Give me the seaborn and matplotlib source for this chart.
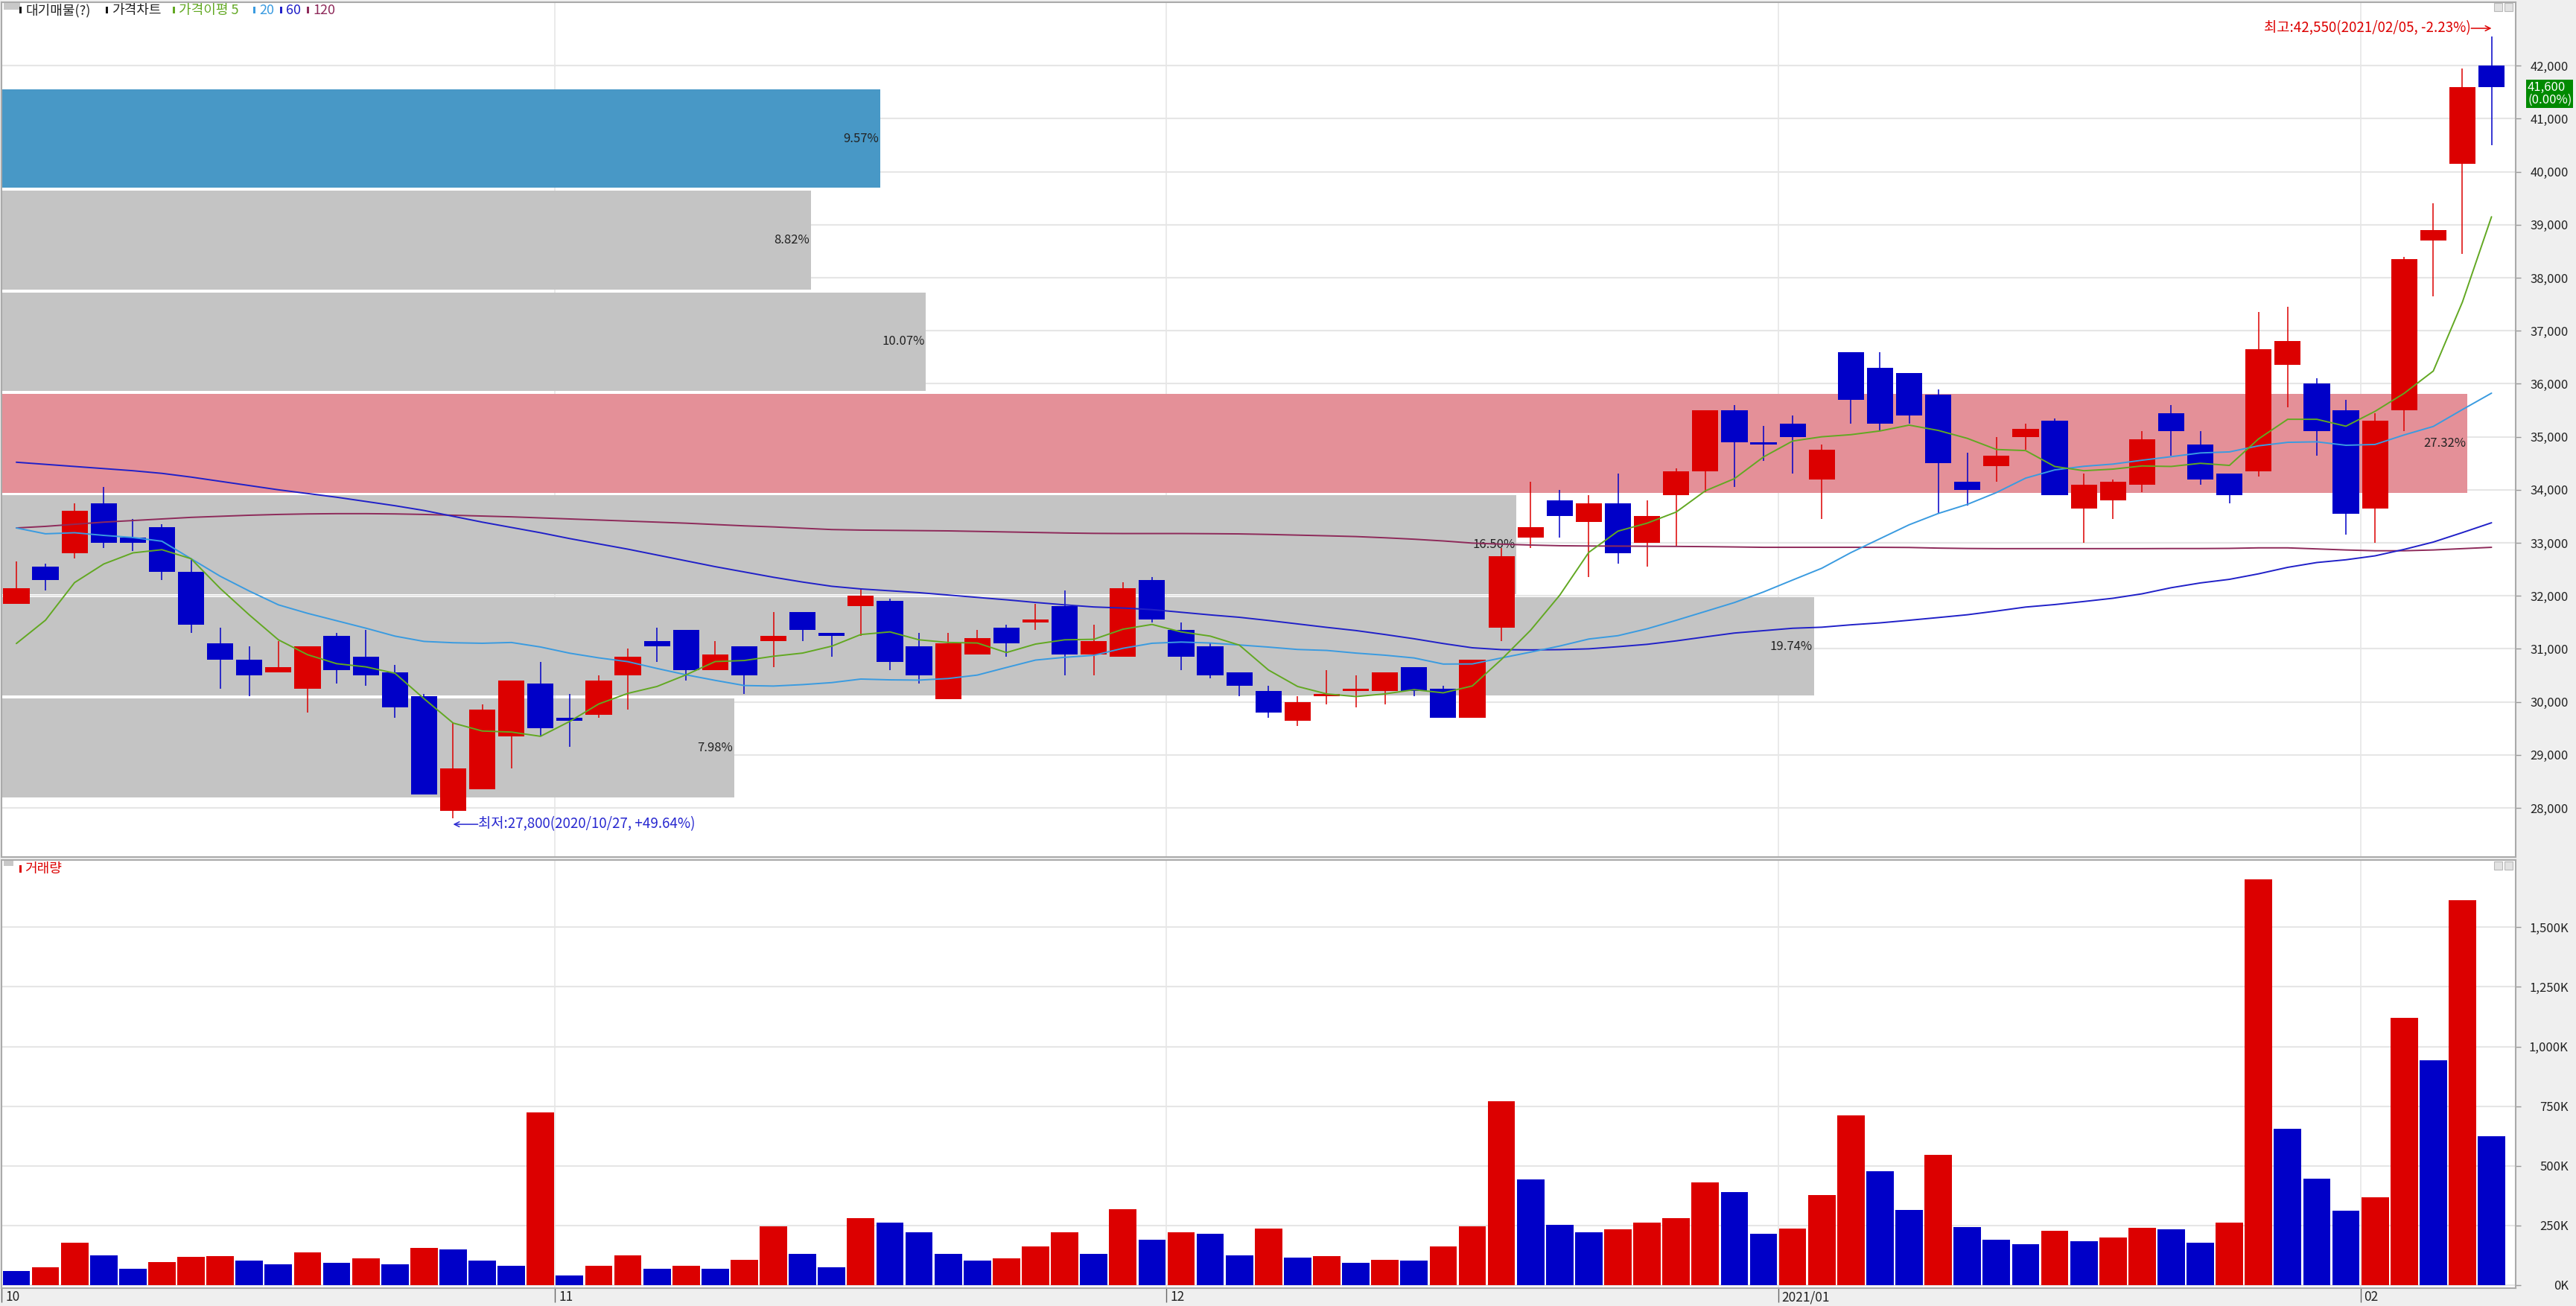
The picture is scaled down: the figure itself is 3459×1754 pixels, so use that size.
import matplotlib
matplotlib.use("Agg")
import matplotlib.pyplot as plt
from matplotlib.patches import Rectangle
import numpy as np
import pandas as pd
import seaborn as sns

# daily candles, 2020/10/05 .. 2021/02/05 (86 sessions)
opens = [31850, 32550, 32800, 33750, 33100, 33300, 32450, 31100, 30800, 30550,
         30250, 31250, 30850, 30550, 30100, 27950, 28350, 29350, 30350, 29700,
         29750, 30500, 31150, 31350, 30600, 31050, 31150, 31700, 31300, 31800,
         31900, 31050, 30050, 30900, 31400, 31500, 31800, 30900, 30850, 32300,
         31350, 31050, 30550, 30200, 29650, 30100, 30200, 30200, 30650, 30250,
         29700, 31400, 33100, 33800, 33400, 33750, 33000, 33900, 34350, 35500,
         34900, 35250, 34200, 36600, 36300, 36200, 35800, 34150, 34450, 35000,
         35300, 33650, 33800, 34100, 35450, 34850, 34300, 34350, 36350, 36000,
         35500, 33650, 35500, 38700, 40150, 42000]
highs = [32650, 32600, 33750, 34050, 33450, 33350, 32700, 31400, 31050, 31150,
         31050, 31300, 31350, 30700, 30150, 29600, 29950, 30400, 30750, 30150,
         30500, 31000, 31400, 31350, 31150, 31050, 31700, 31700, 31300, 32150,
         31950, 31300, 31300, 31350, 31450, 31850, 32100, 31450, 32250, 32350,
         31500, 31100, 30550, 30300, 30100, 30600, 30500, 30550, 30650, 30300,
         30800, 32900, 34150, 34000, 33900, 34300, 33800, 34400, 35500, 35600,
         35200, 35400, 34850, 36600, 36600, 36200, 35900, 34700, 35000, 35250,
         35350, 34300, 34200, 35100, 35600, 35100, 34300, 37350, 37450, 36100,
         35700, 35450, 38400, 39400, 41950, 42550]
lows = [31850, 32100, 32700, 32900, 32850, 32300, 31300, 30250, 30100, 30550,
        29800, 30350, 30300, 29700, 28250, 27800, 28350, 28750, 29350, 29150,
        29700, 29850, 30750, 30400, 30600, 30150, 30650, 31150, 30850, 31250,
        30600, 30350, 30050, 30900, 30850, 31350, 30500, 30500, 30850, 31500,
        30600, 30450, 30100, 29700, 29550, 29950, 29900, 29950, 30100, 29700,
        29700, 31150, 32900, 33100, 32350, 32600, 32550, 32950, 33950, 34050,
        34550, 34300, 33450, 35250, 35100, 35250, 33550, 33700, 34150, 34750,
        33900, 33000, 33450, 33950, 34650, 34100, 33750, 34250, 35550, 34650,
        33150, 33000, 35100, 37650, 38450, 40500]
closes = [32150, 32300, 33600, 33000, 33000, 32450, 31450, 30800, 30500, 30650,
          31050, 30600, 30500, 29900, 28250, 28750, 29850, 30400, 29500, 29650,
          30400, 30850, 31050, 30600, 30900, 30500, 31250, 31350, 31250, 32000,
          30750, 30500, 31100, 31200, 31100, 31550, 30900, 31150, 32150, 31550,
          30850, 30500, 30300, 29800, 30000, 30150, 30250, 30550, 30200, 29700,
          30800, 32750, 33300, 33500, 33750, 32800, 33500, 34350, 35500, 34900,
          34850, 35000, 34750, 35700, 35250, 35400, 34500, 34000, 34650, 35150,
          33900, 34100, 34150, 34950, 35100, 34200, 33900, 36650, 36800, 35100,
          33550, 35300, 38350, 38900, 41600, 41600]
volume_k = [60, 74, 179, 125, 70, 98, 120, 123, 104, 88,
            136, 94, 113, 88, 157, 149, 104, 80, 724, 42,
            80, 125, 70, 80, 70, 107, 247, 130, 74, 280,
            261, 221, 130, 104, 113, 163, 221, 130, 318, 191,
            223, 215, 125, 237, 116, 122, 94, 107, 104, 163,
            247, 772, 444, 252, 223, 233, 261, 280, 430, 390,
            215, 237, 378, 710, 476, 316, 545, 243, 190, 172,
            227, 185, 199, 241, 233, 178, 261, 1702, 655, 447,
            313, 369, 1121, 944, 1613, 625]

ma5 = [31100, 31540, 32250, 32600, 32810, 32870, 32700, 32140, 31640, 31170,
       30890, 30720, 30660, 30540, 30060, 29600, 29450, 29430, 29350, 29630,
       29960, 30160, 30290, 30510, 30760, 30780, 30860, 30920, 31050, 31270,
       31320, 31170, 31120, 31110, 30930, 31090, 31170, 31180, 31370, 31460,
       31320, 31240, 31070, 30600, 30290, 30150, 30100, 30150, 30230, 30170,
       30300, 30800, 31350, 32010, 32820, 33220, 33370, 33580, 33980, 34210,
       34620, 34920, 35000, 35040, 35110, 35220, 35120, 34970, 34760, 34740,
       34440, 34360, 34390, 34450, 34440, 34500, 34460, 34960, 35330, 35330,
       35200, 35480, 35820, 36240, 37540, 39150]
ma20 = [33280, 33170, 33190, 33140, 33100, 33030, 32700, 32370, 32090, 31830,
        31670, 31530, 31390, 31240, 31140, 31115, 31105, 31120, 31035, 30918,
        30830, 30758, 30630, 30510, 30405, 30308, 30298, 30325, 30363, 30430,
        30415, 30410, 30440, 30505, 30648, 30788, 30840, 30878, 31010, 31105,
        31128, 31110, 31073, 31033, 30988, 30970, 30920, 30880, 30828, 30713,
        30715, 30828, 30938, 31053, 31185, 31248, 31378, 31538, 31705, 31873,
        32073, 32298, 32520, 32815, 33078, 33340, 33553, 33725, 33948, 34220,
        34375, 34443, 34485, 34558, 34625, 34695, 34715, 34830, 34895, 34905,
        34840, 34855, 35035, 35195, 35513, 35823]
ma60 = [34520, 34480, 34440, 34400, 34360, 34310, 34240, 34160, 34080, 34000,
        33930, 33860, 33780, 33700, 33610, 33500, 33390, 33290, 33190, 33080,
        32980, 32880, 32770, 32660, 32550, 32450, 32350, 32260, 32180, 32130,
        32095, 32060, 32015, 31970, 31925, 31875, 31830, 31790, 31770, 31740,
        31690, 31640, 31595, 31535, 31470, 31405, 31345, 31270, 31190, 31100,
        31020, 30985, 30980, 30985, 31000, 31040, 31085, 31150, 31225, 31298,
        31343, 31388, 31408, 31453, 31490, 31539, 31590, 31643, 31713, 31788,
        31835, 31893, 31954, 32038, 32153, 32243, 32311, 32415, 32537, 32628,
        32680, 32754, 32876, 33014, 33193, 33378]
ma120 = [33280, 33310, 33350, 33390, 33420, 33450, 33480, 33500, 33520, 33535,
         33545, 33550, 33550, 33545, 33535, 33520, 33505, 33490, 33470, 33450,
         33430, 33410, 33390, 33370, 33345, 33320, 33300, 33275, 33250, 33240,
         33235, 33230, 33225, 33215, 33205, 33195, 33185, 33178, 33175, 33175,
         33175, 33172, 33168, 33158, 33145, 33132, 33118, 33095, 33068, 33035,
         32995, 32975, 32958, 32945, 32940, 32938, 32935, 32932, 32928, 32922,
         32915, 32915, 32915, 32915, 32915, 32912, 32900, 32893, 32890, 32890,
         32890, 32890, 32890, 32890, 32892, 32892, 32895, 32905, 32905, 32885,
         32865, 32850, 32850, 32865, 32890, 32915]

# 대기매물 (volume by price) bands
band_low = [28200, 30116, 32032, 33948, 35864, 37780, 39696]
band_pct = [7.98, 19.74, 16.50, 27.32, 10.07, 8.82, 9.57]

month_labels = ["10", "11", "12", "2021/01", "02"]
month_start = [0, 19, 40, 61, 81]
high_date = "2021/02/05"
low_date = "2020/10/27"

price_ticks = list(range(28000, 42001, 1000))
vol_ticks = [0, 250, 500, 750, 1000, 1250, 1500]

sns.set_theme(style="white")
plt.rcParams["font.family"] = ["Noto Sans CJK KR", "DejaVu Sans"]
plt.rcParams["axes.unicode_minus"] = False

W, H = 3459, 1754
RED, BLUE = "#DC0000", "#0000C8"
GRID = "#E6E6E6"
EDGE = "#AAAAAA"
TXT = "#222222"


def fx(px):
    return px / W


def fy(py):
    return 1 - py / H


def box(x, y, w, h, fc, ec="none", lw=0):
    fig.add_artist(Rectangle((fx(x), fy(y + h)), w / W, h / H, transform=fig.transFigure,
                             facecolor=fc, edgecolor=ec, linewidth=lw))


df = pd.DataFrame({"open": opens, "high": highs, "low": lows, "close": closes,
                   "vol": np.array(volume_k) * 1000,
                   "ma5": ma5, "ma20": ma20, "ma60": ma60, "ma120": ma120})
df["i"] = np.arange(len(df))
candle_col = np.where(df["close"] > df["open"], RED, BLUE)
vol_col = np.where(df["vol"].diff().fillna(-1) > 0, RED, BLUE)

fig = plt.figure(figsize=(W / 100, H / 100), dpi=100, facecolor="#EFEFEF")
ax1 = fig.add_axes([fx(2), fy(1151), fx(3376), fy(3) - fy(1151)])
ax2 = fig.add_axes([fx(2), fy(1730), fx(3376), fy(1155) - fy(1730)])
x0, x1 = -0.51, 85.83

# ---- price panel ----
last = closes[-1]
band_h = 1860
for lo, pct in zip(band_low, band_pct):
    w = min(pct * 3.153, 84.68)
    if lo <= last < lo + 1916:
        c = "#4898C6"
    elif pct == max(band_pct):
        c = "#E49098"
    else:
        c = "#C4C4C4"
    ax1.barh(lo + band_h / 2, w, height=band_h, left=x0, color=c, linewidth=0, zorder=1)
    ax1.text(x0 + w - 0.05, lo + band_h / 2, f"{pct:.2f}%", ha="right", va="center",
             fontsize=12, color=TXT, zorder=1.5)

ax1.vlines(df["i"], df["low"], df["high"], colors=candle_col, linewidth=1.1, zorder=3)
body_lo = np.minimum(df["open"], df["close"])
body_h = np.maximum((df["close"] - df["open"]).abs(), 30)
ax1.bar(df["i"], body_h, bottom=body_lo, width=0.9, color=candle_col, linewidth=0, zorder=3.5)

for col, c in [("ma120", "#8E2A5A"), ("ma60", "#2020C8"), ("ma20", "#3A9BE0"), ("ma5", "#62A822")]:
    sns.lineplot(data=df, x="i", y=col, ax=ax1, color=c, linewidth=1.4, zorder=5, legend=False)

ax1.set_xlim(x0, x1)
ax1.set_ylim(27073, 43197)
ax1.set_xlabel("")
ax1.set_ylabel("")
ax1.set_yticks(price_ticks)
ax1.set_yticklabels([f"{v:,}" for v in price_ticks])
ax1.yaxis.tick_right()
ax1.tick_params(axis="y", right=True, left=False, length=5, width=1, color="#999999",
                labelsize=12, pad=46, labelcolor=TXT)
ax1.tick_params(axis="x", bottom=False, labelbottom=False)
for lab in ax1.get_yticklabels():
    lab.set_ha("right")
ax1.grid(axis="y", color=GRID, linewidth=1.5)
ax1.set_axisbelow(True)

# high / low markers
hi_i = int(np.argmax(highs))
lo_i = int(np.argmin(lows))
hi_pct = (last / highs[hi_i] - 1) * 100
lo_pct = (last / lows[lo_i] - 1) * 100
y_hi = 42705
ax1.text(hi_i - 0.72, y_hi, f"최고:{highs[hi_i]:,}({high_date}, {hi_pct:.2f}%)", color=RED,
         fontsize=13.5, ha="right", va="center", zorder=6)
ax1.annotate("", xy=(hi_i, y_hi), xytext=(hi_i - 0.7, y_hi),
             arrowprops=dict(arrowstyle="->", color=RED, lw=1.1, shrinkA=0, shrinkB=0), zorder=6)
y_lo = 27690
ax1.text(lo_i + 0.87, y_lo, f"최저:{lows[lo_i]:,}({low_date}, {lo_pct:+.2f}%)", color="#2828D0",
         fontsize=13.5, ha="left", va="center", zorder=6)
ax1.annotate("", xy=(lo_i, y_lo), xytext=(lo_i + 0.85, y_lo),
             arrowprops=dict(arrowstyle="->", color="#2828D0", lw=1.1, shrinkA=0, shrinkB=0), zorder=6)

# ---- volume panel ----
ax2.bar(df["i"], df["vol"], width=0.94, color=vol_col, linewidth=0, zorder=3)
ax2.set_xlim(x0, x1)
ax2.set_ylim(-12500, 1782000)
ax2.set_yticks([v * 1000 for v in vol_ticks])
ax2.set_yticklabels([f"{v:,}K" for v in vol_ticks])
ax2.yaxis.tick_right()
ax2.tick_params(axis="y", right=True, left=False, length=5, width=1, color="#999999",
                labelsize=12, pad=46, labelcolor=TXT)
for lab in ax2.get_yticklabels():
    lab.set_ha("right")
ax2.grid(axis="y", color=GRID, linewidth=1.5)
ax2.set_axisbelow(True)
ax2.set_xticks([m - 0.5 for m in month_start])
ax2.set_xticklabels([])
ax2.tick_params(axis="x", bottom=True, length=14, width=1, color="#666666", direction="out")
for m, lab in zip(month_start, month_labels):
    ax2.text(m - 0.5 + 0.12, -0.021, lab, transform=ax2.get_xaxis_transform(),
             ha="left", va="center", fontsize=12.5, color=TXT)

for ax in (ax1, ax2):
    for m in month_start[1:]:
        ax.axvline(m - 0.5, color=GRID, linewidth=1.2, zorder=0.5)
    for s in ax.spines.values():
        s.set_color(EDGE)
        s.set_linewidth(1.5)
    ax.set_facecolor("white")

# current price tag
chg = (closes[-1] / closes[-2] - 1) * 100
fig.text(fx(3394), fy(126), f"{last:,}\n({chg:.2f}%)", color="white", fontsize=12,
         ha="left", va="center", linespacing=1.05,
         bbox=dict(boxstyle="square,pad=0.12", fc="#008A00", ec="none"))

# panel legends
box(5, 4, 22, 9, "#C8C8C8")
legend_items = [(26, "대기매물(?)", "#111111", "#222222"),
                (142, "가격차트", "#111111", "#222222"),
                (232, "가격이평 5", "#62A822", "#62A822"),
                (340, "20", "#3A9BE0", "#3A9BE0"),
                (376, "60", "#2020C8", "#2020C8"),
                (412, "120", "#8E2A5A", "#8E2A5A")]
for x, label, mc, tc in legend_items:
    box(x, 9, 3, 9, mc)
    fig.text(fx(x + 8), fy(14), label, fontsize=13, color=tc, ha="left", va="center")

box(5, 1156, 13, 7, "#C8C8C8")
box(26, 1162, 3, 10, RED)
fig.text(fx(33), fy(1167), "거래량", fontsize=13, color=RED, ha="left", va="center")

# window buttons
for yb in (4, 1157):
    box(3349, yb, 11, 11, "#E2E2E2", "#B8B8B8", 0.8)
    box(3363, yb, 11, 11, "#E2E2E2", "#B8B8B8", 0.8)

fig.savefig("out.png", dpi=100, facecolor=fig.get_facecolor())
